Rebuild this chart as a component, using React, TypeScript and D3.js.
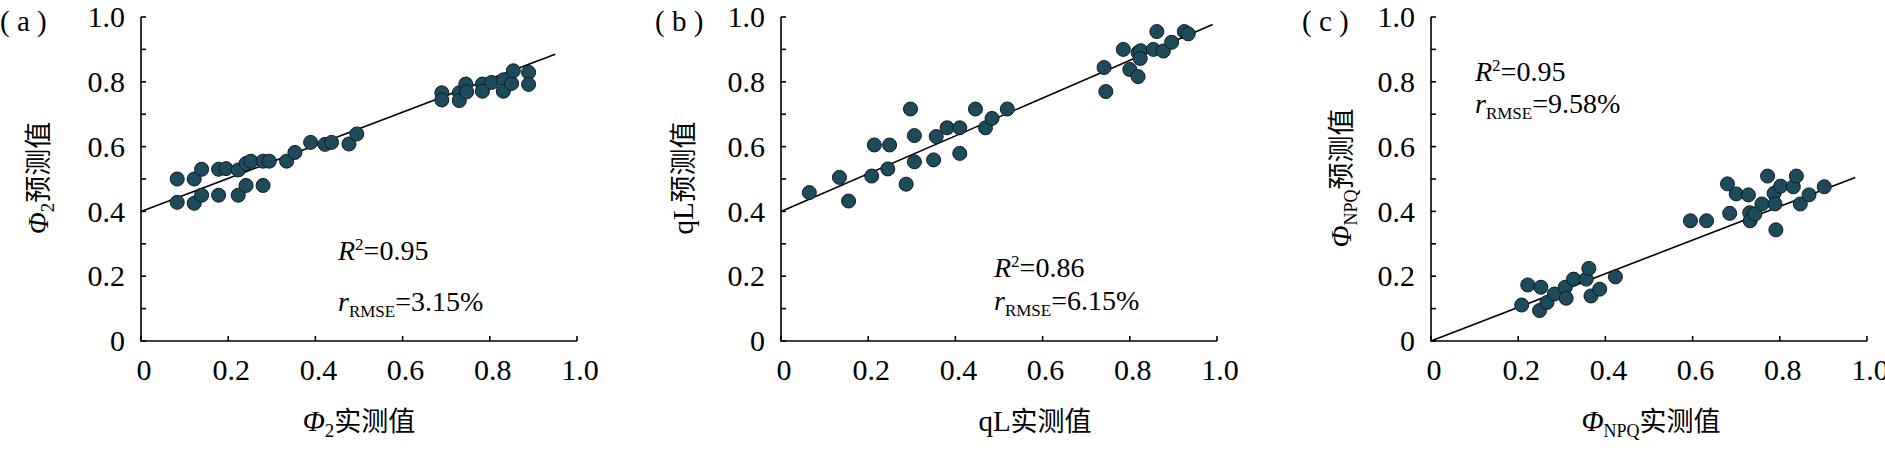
import React from "react";
import * as d3 from "d3";

const W = 1885;
const H = 454;
const TOP = 17;
const BOTTOM = 341;
const PW = 436;
const SERIF = "'Liberation Serif', 'DejaVu Serif', serif";
const CJK = "'Noto Sans CJK SC', sans-serif";

const xTickValues = [0, 0.2, 0.4, 0.6, 0.8, 1.0];
const yTickValues = [0, 0.1, 0.2, 0.3, 0.4, 0.5, 0.6, 0.7, 0.8, 0.9, 1.0];
const tickLabels = ["0", "0.2", "0.4", "0.6", "0.8", "1.0"];

// (a) Φ2
const phi2Measured = [
  0.083, 0.083, 0.122, 0.122, 0.139, 0.139, 0.178, 0.178, 0.195, 0.223, 0.223, 0.241, 0.241,
  0.252, 0.28, 0.28, 0.294, 0.334, 0.353, 0.389, 0.422, 0.437, 0.477, 0.495, 0.69, 0.69, 0.73,
  0.73, 0.745, 0.747, 0.783, 0.783, 0.804, 0.831, 0.831, 0.85, 0.854, 0.889, 0.889,
];
const phi2Predicted = [
  0.5, 0.428, 0.5, 0.425, 0.53, 0.45, 0.53, 0.45, 0.532, 0.528, 0.45, 0.548, 0.48, 0.555, 0.555,
  0.48, 0.555, 0.555, 0.582, 0.613, 0.607, 0.613, 0.608, 0.639, 0.766, 0.744, 0.766, 0.742, 0.793,
  0.769, 0.793, 0.771, 0.798, 0.806, 0.771, 0.795, 0.834, 0.829, 0.792,
];
const phi2Fit = [[0, 0.4], [0.95, 0.885]];

// (b) qL
const qlMeasured = [
  0.065, 0.134, 0.155, 0.208, 0.214, 0.249, 0.245, 0.287, 0.297, 0.306, 0.306, 0.35, 0.356, 0.381,
  0.41, 0.41, 0.446, 0.469, 0.484, 0.519, 0.741, 0.745, 0.785, 0.8, 0.819, 0.825, 0.824, 0.819,
  0.854, 0.862, 0.877, 0.896, 0.925, 0.934,
];
const qlPredicted = [
  0.458, 0.505, 0.432, 0.509, 0.605, 0.605, 0.531, 0.484, 0.716, 0.634, 0.553, 0.559, 0.631, 0.658,
  0.658, 0.579, 0.716, 0.658, 0.687, 0.716, 0.844, 0.77, 0.9, 0.838, 0.89, 0.896, 0.872, 0.816,
  0.9, 0.955, 0.895, 0.922, 0.955, 0.948,
];
const qlFit = [[0, 0.4], [0.99, 0.977]];

// (c) ΦNPQ
const npqMeasured = [
  0.208, 0.222, 0.252, 0.249, 0.266, 0.283, 0.308, 0.31, 0.327, 0.356, 0.362, 0.367, 0.387, 0.423,
  0.595, 0.632, 0.68, 0.685, 0.7, 0.728, 0.731, 0.732, 0.743, 0.759, 0.772, 0.787, 0.789, 0.791,
  0.802, 0.831, 0.838, 0.847, 0.867, 0.902,
];
const npqPredicted = [
  0.111, 0.173, 0.166, 0.094, 0.119, 0.145, 0.166, 0.132, 0.191, 0.191, 0.224, 0.139, 0.16, 0.198,
  0.371, 0.371, 0.485, 0.394, 0.454, 0.451, 0.396, 0.371, 0.392, 0.423, 0.509, 0.456, 0.423, 0.343,
  0.478, 0.476, 0.509, 0.423, 0.451, 0.476,
];
const npqFit = [[0, 0], [0.973, 0.505]];

const r2Values = ["0.95", "0.86", "0.95"];
const rmseValues = ["3.15%", "6.15%", "9.58%"];

// variable name + optional subscript + chinese suffix
const Title = ({ name, italic, sub, subSize, cn }: any) => (
  <>
    <tspan fontStyle={italic ? "italic" : "normal"}>{name}</tspan>
    {sub ? (
      <tspan fontSize={subSize} dy={6}>
        {sub}
      </tspan>
    ) : null}
    <tspan fontFamily={CJK} fontSize={27} dy={sub ? -6 : 0}>
      {cn}
    </tspan>
  </>
);

const Panel = ({
  x0, xs, ys, fit, label, labelX, xTitle, xTitleX, yTitle, yTitleX, statX, r2Y, rmseY, r2, rmse,
}: any) => {
  const x = d3.scaleLinear().domain([0, 1]).range([x0, x0 + PW]);
  const y = d3.scaleLinear().domain([0, 1]).range([BOTTOM, TOP]);
  const line = d3
    .line<number[]>()
    .x((d) => x(d[0]))
    .y((d) => y(d[1]));
  const pts = xs.map((v: number, i: number) => [v, ys[i]]);

  return (
    <g style={{ fontFamily: SERIF }}>
      <text x={labelX} y={31} fontSize={29}>( {label} )</text>
      {/* axes */}
      <path
        d={`M${x(0)},${y(1)}V${y(0)}H${x(1)}`}
        fill="none"
        stroke="#000"
        strokeWidth={1.6}
      />
      {yTickValues.map((t) => (
        <line key={"yt" + t} x1={x(0)} x2={x(0) + 5} y1={y(t)} y2={y(t)} stroke="#000" strokeWidth={1.6} />
      ))}
      {xTickValues.map((t) => (
        <line key={"xt" + t} x1={x(t)} x2={x(t)} y1={y(0)} y2={y(0) - 5} stroke="#000" strokeWidth={1.6} />
      ))}
      {xTickValues.map((t, i) => (
        <text key={"yl" + t} x={x(0) - 16} y={y(t)} dy="0.34em" textAnchor="end" fontSize={30}>
          {tickLabels[i]}
        </text>
      ))}
      {xTickValues.map((t, i) => (
        <text key={"xl" + t} x={x(t) + 3} y={380} textAnchor="middle" fontSize={30}>
          {tickLabels[i]}
        </text>
      ))}
      {/* fit line */}
      <path d={line(fit) || ""} fill="none" stroke="#000" strokeWidth={1.6} />
      {/* points */}
      {pts.map((d: number[], i: number) => (
        <circle key={i} cx={x(d[0])} cy={y(d[1])} r={7} fill="#1e4b5b" stroke="#0b1c22" strokeWidth={1} />
      ))}
      {/* stats */}
      <text x={statX} y={r2Y} fontSize={28}>
        <tspan fontStyle="italic">R</tspan>
        <tspan fontSize={17} dy={-10}>2</tspan>
        <tspan dy={10}>={r2}</tspan>
      </text>
      <text x={statX} y={rmseY} fontSize={28}>
        <tspan fontStyle="italic">r</tspan>
        <tspan fontSize={17} dy={6}>RMSE</tspan>
        <tspan dy={-6}>={rmse}</tspan>
      </text>
      {/* titles */}
      <text x={xTitleX} y={431} textAnchor="middle" fontSize={29}>
        <Title {...xTitle} />
      </text>
      <text transform={`translate(${yTitleX},178) rotate(-90)`} textAnchor="middle" fontSize={29}>
        <Title {...yTitle} />
      </text>
    </g>
  );
};

export default function App() {
  return (
    <svg
      width={W}
      height={H}
      style={{ position: "absolute", left: 0, top: 0, background: "#fff" }}
    >
      <Panel
        x0={141}
        xs={phi2Measured}
        ys={phi2Predicted}
        fit={phi2Fit}
        label="a"
        labelX={0}
        xTitle={{ name: "Φ", italic: true, sub: "2", subSize: 19, cn: "实测值" }}
        xTitleX={359}
        yTitle={{ name: "Φ", italic: true, sub: "2", subSize: 19, cn: "预测值" }}
        yTitleX={48}
        statX={338}
        r2Y={260}
        rmseY={311}
        r2={r2Values[0]}
        rmse={rmseValues[0]}
      />
      <Panel
        x0={781}
        xs={qlMeasured}
        ys={qlPredicted}
        fit={qlFit}
        label="b"
        labelX={655}
        xTitle={{ name: "qL", cn: "实测值" }}
        xTitleX={1035}
        yTitle={{ name: "qL", cn: "预测值" }}
        yTitleX={693}
        statX={994}
        r2Y={277}
        rmseY={310}
        r2={r2Values[1]}
        rmse={rmseValues[1]}
      />
      <Panel
        x0={1431}
        xs={npqMeasured}
        ys={npqPredicted}
        fit={npqFit}
        label="c"
        labelX={1302}
        xTitle={{ name: "Φ", italic: true, sub: "NPQ", subSize: 18, cn: "实测值" }}
        xTitleX={1651}
        yTitle={{ name: "Φ", italic: true, sub: "NPQ", subSize: 18, cn: "预测值" }}
        yTitleX={1351}
        statX={1475}
        r2Y={81}
        rmseY={113}
        r2={r2Values[2]}
        rmse={rmseValues[2]}
      />
    </svg>
  );
}
